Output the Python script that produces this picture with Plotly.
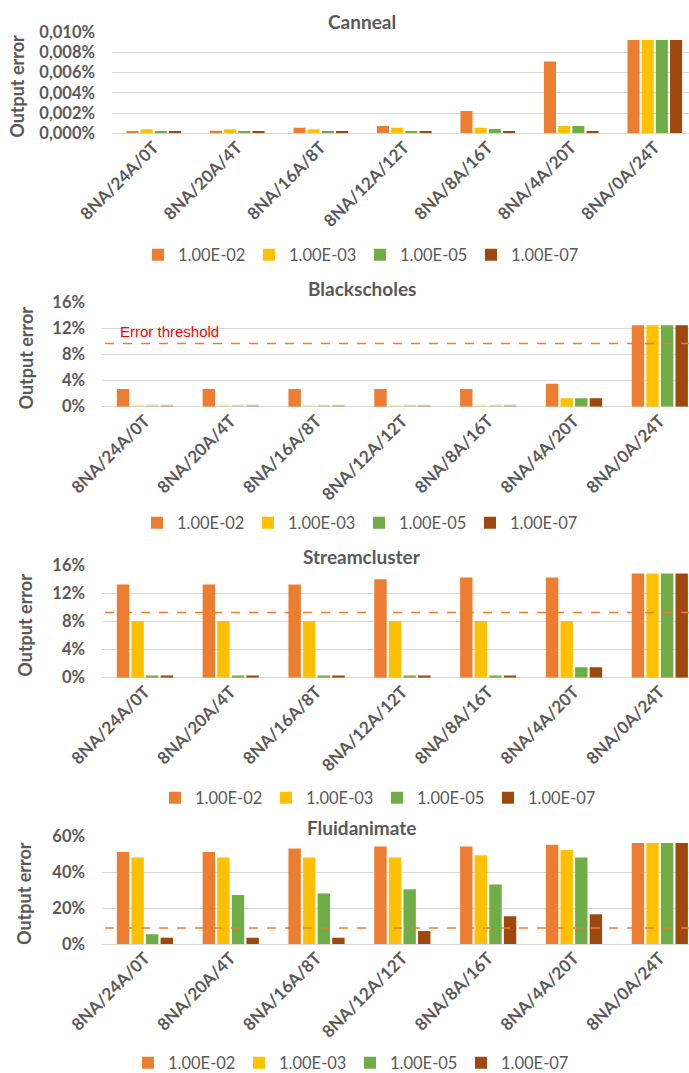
import plotly.graph_objects as go

# Core configurations (accelerator / big / little thread split)
configs = ["8NA/24A/0T", "8NA/20A/4T", "8NA/16A/8T", "8NA/12A/12T",
           "8NA/8A/16T", "8NA/4A/20T", "8NA/0A/24T"]
thresholds = ["1.00E-02", "1.00E-03", "1.00E-05", "1.00E-07"]
colors = ["#ED7D31", "#FFC000", "#70AD47", "#9E480E"]

# Output error in percent, one list per approximation threshold
canneal_e2 = [0.00023, 0.00025, 0.00055, 0.00072, 0.0022, 0.0071, 0.00924]
canneal_e3 = [0.0004, 0.0004, 0.0004, 0.00055, 0.00055, 0.00072, 0.00924]
canneal_e5 = [0.00023, 0.00023, 0.00023, 0.00023, 0.00043, 0.00072, 0.00924]
canneal_e7 = [0.00023, 0.00023, 0.00023, 0.00023, 0.00023, 0.00023, 0.00924]

black_e2 = [2.7, 2.7, 2.7, 2.7, 2.7, 3.5, 12.5]
black_e3 = [0.3, 0.3, 0.3, 0.3, 0.3, 1.3, 12.5]
black_e5 = [0.3, 0.3, 0.3, 0.3, 0.3, 1.3, 12.5]
black_e7 = [0.3, 0.3, 0.3, 0.3, 0.3, 1.3, 12.5]

stream_e2 = [13.3, 13.3, 13.3, 14.05, 14.3, 14.3, 14.9]
stream_e3 = [8.1, 8.1, 8.1, 8.1, 8.1, 8.1, 14.9]
stream_e5 = [0.3, 0.3, 0.3, 0.3, 0.3, 1.5, 14.9]
stream_e7 = [0.3, 0.3, 0.3, 0.3, 0.3, 1.5, 14.9]

fluid_e2 = [51.1, 51.1, 53.0, 54.1, 54.1, 55.2, 56.1]
fluid_e3 = [48.1, 48.1, 48.1, 48.1, 49.3, 52.2, 56.1]
fluid_e5 = [5.4, 27.2, 28.1, 30.4, 33.1, 48.1, 56.1]
fluid_e7 = [3.5, 3.5, 3.5, 7.2, 15.4, 16.5, 56.1]

# Error threshold level (percent) drawn on each panel
black_thr = 9.7
stream_thr = 9.3
fluid_thr = 8.9

W, H = 689, 1073
GRID = "#D9D9D9"
TXT = "#595959"
FONT = "Lato"


def px_y(py):
    return 1 - py / H


panels = [
    dict(name="Canneal", series=[canneal_e2, canneal_e3, canneal_e5, canneal_e7],
         left=112, top=32.3, bottom=133.3, rng=[0, 0.010], dtick=0.002, fmt=".3f",
         xr=[-0.5, 6.41], title_y=21, label_x=17, leg_x=156, leg_y=255, thr=None),
    dict(name="Blackscholes", series=[black_e2, black_e3, black_e5, black_e7],
         left=102, top=302.3, bottom=406.7, rng=[0, 16], dtick=4, fmt="d",
         xr=[-0.5, 6.34], title_y=289, label_x=25, leg_x=155, leg_y=523, thr=black_thr),
    dict(name="Streamcluster", series=[stream_e2, stream_e3, stream_e5, stream_e7],
         left=102, top=565.7, bottom=677.7, rng=[0, 16], dtick=4, fmt="d",
         xr=[-0.5, 6.34], title_y=556, label_x=25, leg_x=173, leg_y=798, thr=stream_thr),
    dict(name="Fluidanimate", series=[fluid_e2, fluid_e3, fluid_e5, fluid_e7],
         left=102, top=836, bottom=944, rng=[0, 60], dtick=20, fmt="d",
         xr=[-0.5, 6.34], title_y=827, label_x=24, leg_x=146, leg_y=1063, thr=fluid_thr),
]

fig = go.Figure()
annotations = []
shapes = []
layout = {}

for i, p in enumerate(panels):
    k = "" if i == 0 else str(i + 1)
    leg = "legend" + k
    for j, vals in enumerate(p["series"]):
        opac = 1.0
        if p["name"] == "Blackscholes" and j > 0:
            # near-zero bars are rendered washed out
            opac = [0.35 if v < 0.5 else 1.0 for v in vals]
        fig.add_trace(go.Bar(
            x=configs, y=vals, name=thresholds[j],
            marker=dict(color=colors[j], opacity=opac, line=dict(width=0)),
            xaxis="x" + k, yaxis="y" + k, legend=leg,
        ))

    layout["xaxis" + k] = dict(
        domain=[p["left"] / W, 1], anchor="y" + k, type="category",
        range=p["xr"], tickangle=-45, showgrid=False, showline=False,
        ticks="", automargin=False,
        tickfont=dict(family=FONT, size=17, color=TXT, weight="bold"),
    )
    layout["yaxis" + k] = dict(
        domain=[px_y(p["bottom"]), px_y(p["top"])], anchor="x" + k,
        range=p["rng"], dtick=p["dtick"], tickformat=p["fmt"], ticksuffix="%",
        showgrid=True, gridcolor=GRID, gridwidth=1.3, zeroline=True,
        zerolinecolor=GRID, zerolinewidth=1.3, showline=False, ticks="",
        ticklabelstandoff=16, automargin=False,
        tickfont=dict(family=FONT, size=16.5, color=TXT, weight="bold"),
    )
    layout[leg] = dict(
        orientation="h", x=(p["leg_x"] - 18) / W, xanchor="left",
        y=px_y(p["leg_y"]), yanchor="middle", bgcolor="rgba(0,0,0,0)",
        font=dict(family=FONT, size=16.5, color=TXT), itemwidth=30,
        entrywidth=66, entrywidthmode="pixels", traceorder="normal",
    )

    annotations.append(dict(
        text=p["name"], x=362 / W, y=px_y(p["title_y"]), xref="paper", yref="paper",
        xanchor="center", yanchor="middle", showarrow=False,
        font=dict(family=FONT, size=19, color=TXT, weight="bold"),
    ))
    annotations.append(dict(
        text="Output error", x=p["label_x"] / W, y=px_y((p["top"] + p["bottom"]) / 2 + 4),
        xref="paper", yref="paper", xanchor="center", yanchor="middle",
        textangle=-90, showarrow=False,
        font=dict(family=FONT, size=18, color=TXT, weight="bold"),
    ))

    if p["thr"] is not None:
        shapes.append(dict(
            type="line", xref="paper", yref="y" + k,
            x0=(p["left"] + 3) / W, x1=1, y0=p["thr"], y1=p["thr"],
            line=dict(color="#ED7D31", width=1.5, dash="dash"), layer="above",
        ))

# threshold caption on the Blackscholes panel
annotations.append(dict(
    text="Error threshold", x=118 / W, y=black_thr, xref="paper", yref="y2",
    xanchor="left", yanchor="bottom", yshift=1, showarrow=False,
    font=dict(family="Liberation Sans", size=15, color="#FF0000"),
))

fig.update_layout(
    width=W, height=H, margin=dict(l=0, r=0, t=0, b=0, autoexpand=False),
    paper_bgcolor="white", plot_bgcolor="white",
    barmode="group", bargap=0.32, bargroupgap=0.15,
    separators=",.", showlegend=True,
    annotations=annotations, shapes=shapes, **layout,
)

fig.write_html("out.html")
